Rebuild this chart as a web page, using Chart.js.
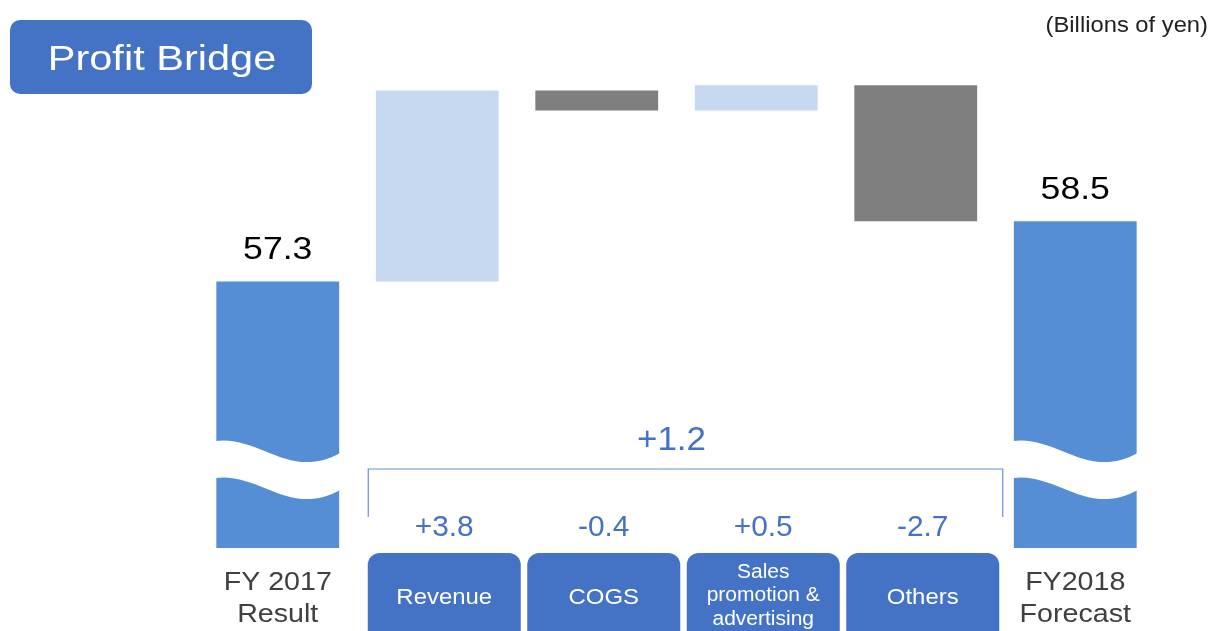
<!DOCTYPE html>
<html lang="en">
<head>
  <meta charset="UTF-8">
  <title>Profit Bridge</title>
  <script src="https://cdn.jsdelivr.net/npm/chart.js"></script>
  <style>
    body { margin: 0; background: #fff; }
    canvas { display: block; }
  </style>
</head>
<body>
  <canvas id="grafico" width="1213" height="631"></canvas>

<script>
  // dados do grafico
  const categories = ['FY 2017\nResult', 'Revenue', 'COGS', 'Sales\npromotion &\nadvertising', 'Others', 'FY2018\nForecast'];
  const startValue = 57.3;
  const deltas = [3.8, -0.4, 0.5, -2.7];
  const endValue = 58.5;
  const totalChange = 1.2;
  const axisFloor = 52;   // eixo quebrado (ondas)
  const axisCeil = 62.5;

  const barColors = ['#558ED5', '#C6D9F1', '#7F7F7F', '#C6D9F1', '#7F7F7F', '#558ED5'];

  // monta as barras flutuantes
  let ranges = [[axisFloor, startValue]];
  let acc = startValue;
  for (let i = 0; i < deltas.length; i++) {
    let next = Math.round((acc + deltas[i]) * 10) / 10;
    ranges.push([Math.min(acc, next), Math.max(acc, next)]);
    acc = next;
  }
  ranges.push([axisFloor, endValue]);

  function fmt(v) {
    return (v > 0 ? '+' : '') + v.toFixed(1);
  }

  // texto com leve esticada horizontal (o slide original e mais largo)
  function txt(ctx, s, x, y, size, color, sx, align) {
    ctx.save();
    ctx.translate(x, y);
    ctx.scale(sx, 1);
    ctx.font = size + 'px "Liberation Sans", Arial, sans-serif';
    ctx.fillStyle = color;
    ctx.textAlign = align || 'center';
    ctx.textBaseline = 'alphabetic';
    ctx.fillText(s, 0, 0);
    ctx.restore();
  }

  const extras = {
    id: 'extras',
    afterDatasetsDraw(chart) {
      const ctx = chart.ctx;
      const bars = chart.getDatasetMeta(0).data;
      const blue = '#4472C4';
      ctx.save();

      // titulo e unidade
      ctx.fillStyle = blue;
      ctx.beginPath();
      ctx.roundRect(10, 20, 302, 74, 10);
      ctx.fill();
      txt(ctx, 'Profit Bridge', 162, 70, 35.5, '#fff', 1.17);
      txt(ctx, '(Billions of yen)', 1208, 32, 22, '#222', 1.08, 'right');

      // ondas nas barras das pontas
      [0, bars.length - 1].forEach((i) => {
        const b = bars[i];
        const x0 = b.x - b.width / 2 - 1, x1 = b.x + b.width / 2 + 1, w = x1 - x0;
        const yT = b.base - 107, th = 37;
        ctx.fillStyle = '#fff';
        ctx.beginPath();
        ctx.moveTo(x0, yT);
        ctx.bezierCurveTo(x0 + w * 0.35, yT - 6, x0 + w * 0.6, yT + 40, x1, yT + 12);
        ctx.lineTo(x1, yT + 12 + th);
        ctx.bezierCurveTo(x0 + w * 0.6, yT + 40 + th, x0 + w * 0.35, yT - 6 + th, x0, yT + th);
        ctx.closePath();
        ctx.fill();
      });

      // valores das pontas
      txt(ctx, startValue.toFixed(1), bars[0].x, bars[0].y - 22, 31.5, '#000', 1.13);
      txt(ctx, endValue.toFixed(1), bars[5].x, bars[5].y - 22, 31.5, '#000', 1.13);

      // rotulos das pontas
      [0, 5].forEach((i) => {
        categories[i].split('\n').forEach((linha, k) => {
          txt(ctx, linha, bars[i].x, 590 + k * 32, 26.5, '#404040', 1.08);
        });
      });

      // caixas das variacoes + deltas
      for (let i = 1; i <= deltas.length; i++) {
        const cx = bars[i].x + 7;
        ctx.fillStyle = blue;
        ctx.beginPath();
        ctx.roundRect(cx - 76.5, 553, 153, 90, 12);
        ctx.fill();

        const linhas = categories[i].split('\n');
        if (linhas.length > 1) {
          linhas.forEach((linha, k) => {
            txt(ctx, linha, cx, 601 + (k - (linhas.length - 1) / 2) * 23.5, 20, '#fff', 1.05);
          });
        } else {
          txt(ctx, linhas[0], cx, 603.5, 22.8, '#fff', 1.05);
        }

        txt(ctx, fmt(deltas[i - 1]), cx, 536, 29, blue, 1.03);
      }

      // colchete do total
      const bx0 = bars[1].x - 69, bx1 = bars[4].x + 87;
      ctx.strokeStyle = '#6A8FD3';
      ctx.lineWidth = 1.2;
      ctx.beginPath();
      ctx.moveTo(bx0, 517);
      ctx.lineTo(bx0, 469);
      ctx.lineTo(bx1, 469);
      ctx.lineTo(bx1, 517);
      ctx.stroke();

      txt(ctx, fmt(totalChange), (bars[1].x + bars[4].x) / 2 - 5, 450, 33, blue, 1.06);

      ctx.restore();
    }
  };

  const config = {
    type: 'bar',
    data: {
      labels: categories,
      datasets: [{
        data: ranges,
        backgroundColor: barColors,
        borderWidth: 0,
        barPercentage: 0.77,
        categoryPercentage: 1
      }]
    },
    options: {
      responsive: false,
      animation: false,
      layout: { padding: { left: 198, right: 58, top: 20, bottom: 83 } },
      plugins: {
        legend: { display: false },
        tooltip: { enabled: false }
      },
      scales: {
        x: { display: false },
        y: { display: false, min: axisFloor, max: axisCeil }
      }
    },
    plugins: [extras]
  };

  let myChart = new Chart(document.getElementById('grafico'), config);
</script>
</body>
</html>
